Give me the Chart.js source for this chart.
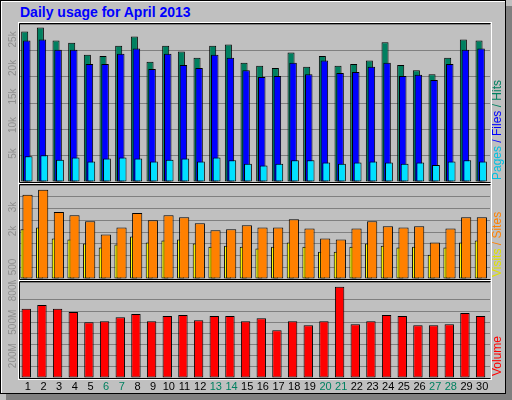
<!DOCTYPE html>
<html>
<head>
<meta charset="utf-8">
<script src="https://cdn.jsdelivr.net/npm/chart.js@4"></script>
<style>
  body { margin: 0; background: #c0c0c0; }
  #box { position: absolute; left: 0; top: 0; width: 504px; height: 392px; background: #c0c0c0;
         border: 1px solid #000; box-shadow: inset 1px 1px 0 #fff; }
  #shadow { position: absolute; left: 6px; top: 6px; width: 506px; height: 394px; background: #808080; }
  h1 { position: absolute; left: 20px; top: 4px; margin: 0; font: bold 14px "Liberation Sans", Arial, sans-serif; color: #0000ff; }
  canvas { position: absolute; left: 0; }
</style>
</head>
<body>
<div id="shadow"></div>
<div id="box"></div>
<h1>Daily usage for April 2013</h1>
<canvas id="c1" width="512" height="162" style="top:22px"></canvas>
<canvas id="c2" width="512" height="96" style="top:184px"></canvas>
<canvas id="c3" width="512" height="120" style="top:280px"></canvas>
<script>
const days = [1,2,3,4,5,6,7,8,9,10,11,12,13,14,15,16,17,18,19,20,21,22,23,24,25,26,27,28,29,30];
const weekend = [6,7,13,14,20,21,27,28];
const hits = [26400,27100,24800,24400,22300,22100,23900,25500,21100,23900,22900,21800,23900,24100,20900,20400,20000,22700,20200,22100,20400,20700,21300,24500,20500,19600,18900,21800,25000,24800];
const files = [24800,25000,23200,23200,20700,20700,22500,23400,19800,22500,20500,20000,22300,21800,19600,18400,18600,20900,18900,21300,19100,19300,20200,20900,18600,18800,17900,20700,23200,23400];
const pages = [4500,4700,3900,4300,3600,4100,4300,4100,3600,3900,4100,3600,4300,3800,3200,2900,3200,3800,3800,3400,3200,3400,3600,3400,3200,3400,3000,3600,3800,3600];
const visits = [2070,2150,1690,1650,1480,1310,1440,1770,1520,1610,1650,1480,1350,1390,1350,1270,1350,1520,1350,1140,1140,1350,1480,1390,1310,1350,1010,1310,1520,1610];
const sites = [3510,3720,2790,2660,2410,1860,2150,2750,2450,2660,2580,2320,2030,2070,2240,2150,2150,2490,2110,1690,1650,2110,2410,2200,2150,2200,1520,2110,2580,2580];
const volume = [621,655,621,591,500,509,545,573,509,555,564,518,555,555,509,536,427,509,473,509,818,482,509,564,555,473,473,482,582,555];
const topTicks = [[5000,'5k'],[10000,'10k'],[15000,'15k'],[20000,'20k'],[25000,'25k']];
const midTicks = [[500,'500'],[2000,'2k'],[3000,'3k']];
const volTicks = [[200,'200M'],[500,'500M'],[800,'800M']];

const FONT = '"Liberation Sans", Arial, sans-serif';

// frame, rotated left labels, rotated right title, optional day labels
const panelPlugin = {
  id: 'panel',
  afterDraw(chart, args, o) {
    const c = chart.ctx, a = chart.chartArea, y = chart.scales.y;
    c.save();
    c.lineWidth = 1;
    c.strokeStyle = '#fff';
    c.strokeRect(a.left - 1.5, a.top - 1.5, a.right - a.left + 3, a.bottom - a.top + 3);
    c.strokeStyle = '#000';
    c.beginPath();
    c.moveTo(a.left - 0.5, a.bottom + 0.5); c.lineTo(a.left - 0.5, a.top - 0.5); c.lineTo(a.right + 0.5, a.top - 0.5);
    c.moveTo(a.left - 0.5, a.bottom + 0.5); c.lineTo(a.right + 0.5, a.bottom + 0.5);
    c.stroke();
    c.font = '10px ' + FONT;
    c.fillStyle = '#909090';
    c.textAlign = 'center';
    c.textBaseline = 'middle';
    o.ticks.forEach(([v, t]) => {
      c.save();
      c.translate(13, y.getPixelForValue(v));
      c.rotate(-Math.PI / 2);
      c.fillText(t, 0, 0);
      c.restore();
    });
    c.save();
    c.translate(498, a.bottom - 2);
    c.rotate(-Math.PI / 2);
    c.font = '12px ' + FONT;
    c.textAlign = 'left';
    let x = 0;
    o.title.forEach(([t, col]) => {
      c.fillStyle = col;
      c.fillText(t, x, 0);
      x += c.measureText(t).width;
    });
    c.restore();
    if (o.days) {
      const xs = chart.scales.xd;
      c.font = '11px ' + FONT;
      c.textBaseline = 'middle';
      days.forEach(d => {
        c.fillStyle = weekend.includes(d) ? '#008060' : '#000';
        c.fillText(String(d), xs.getPixelForValue(d), a.bottom + 9);
      });
    }
    c.restore();
  }
};

function xAxis(shift) {
  return { type: 'linear', display: false, offset: false, min: 0.5 - shift, max: 30.5 - shift };
}
function bars(data, color, axis, width) {
  return {
    data: data.map((v, i) => ({ x: days[i], y: v })),
    backgroundColor: color, borderColor: '#000', borderWidth: 1, borderSkipped: false,
    xAxisID: axis, barPercentage: width, categoryPercentage: 1, grouped: false
  };
}
function make(id, datasets, axes, yMax, step, panel, pad) {
  new Chart(document.getElementById(id), {
    type: 'bar',
    data: { datasets },
    plugins: [panelPlugin],
    options: {
      responsive: false, animation: false,
      layout: { padding: pad },
      plugins: { legend: { display: false }, tooltip: { enabled: false }, panel },
      scales: Object.assign({}, axes, {
        y: { min: 0, max: yMax, ticks: { display: false, stepSize: step },
             grid: { color: '#808080', drawTicks: false }, border: { display: false } }
      })
    }
  });
}

make('c1',
  [bars(pages, '#00e0ff', 'xp', 0.5), bars(files, '#0000ff', 'xf', 0.48), bars(hits, '#008060', 'xh', 0.45)],
  { xp: xAxis(0.05), xf: xAxis(-0.07), xh: xAxis(-0.2) },
  27700, 5000,
  { ticks: topTicks, title: [['Pages', '#00c0e0'], [' / ', '#0000ff'], ['Files', '#0000ff'], [' / ', '#008060'], ['Hits', '#008060']] },
  { left: 20, right: 22, top: 2, bottom: 2 });

make('c2',
  [bars(sites, '#ff8000', 'xs', 0.65), bars(visits, '#ffff00', 'xv', 0.45)],
  { xs: xAxis(-0.02), xv: xAxis(-0.25) },
  3920, 500,
  { ticks: midTicks, title: [['Visits', '#e0e000'], [' / ', '#ff8000'], ['Sites', '#ff8000']] },
  { left: 20, right: 22, top: 1, bottom: 1 });

make('c3',
  [bars(volume, '#ff0000', 'xr', 0.6)],
  { xr: xAxis(-0.1), xd: xAxis(0) },
  860, 100,
  { ticks: volTicks, title: [['Volume', '#ff0000']], days: true },
  { left: 20, right: 22, top: 2, bottom: 22 });
</script>
</body>
</html>
